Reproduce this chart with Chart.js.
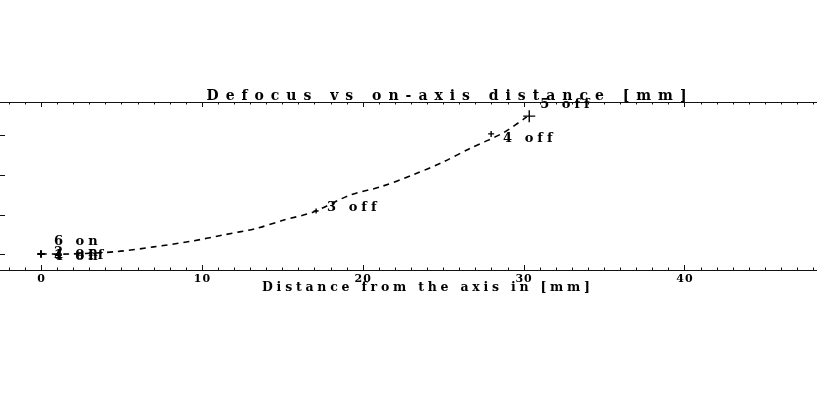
<!DOCTYPE html>
<html>
<head>
<meta charset="utf-8">
<script src="https://cdn.jsdelivr.net/npm/chart.js@4.4.1/dist/chart.umd.min.js"></script>
<style>
  html, body { margin: 0; padding: 0; background: #fff; overflow: hidden; }
</style>
</head>
<body>
<canvas id="defocusChart" width="892" height="413"></canvas>
<script>
// fitted defocus curve
const curveX = [0, 1.8, 4.7, 7.0, 9.3, 11.3, 13.4, 15.1, 16.9, 19.2, 21.1, 23.1, 25.0, 26.7, 28.7, 30.2];
const curveY = [0, 0.0, 0.06, 0.18, 0.32, 0.48, 0.65, 0.86, 1.06, 1.49, 1.70, 2.00, 2.33, 2.68, 3.06, 3.47];

// measured points
const pointX = [0, 0, 0, 0, 17.1, 27.98, 30.35];
const pointY = [0, 0, 0, 0, 1.09, 3.04, 3.49];
const pointLabels = ['6 on', '2 on', '1 off', '4 on', '3 off', '4 off', '5 off'];

const xTicks = [0, 10, 20, 30, 40, 50];
const yTicks = [0, 1, 2, 3];

// marker size and label nudge per point (style only)
const markerRadius = [3.5, 3.5, 3.5, 3.5, 2.5, 3, 6];
const labelNudge = [[13, -9], [13, 2], [13, 5], [13, 6], [11, 0], [12, 8], [11, -8]];

const FONT = '"DejaVu Serif"';

function spacedText(ctx, text, x, y, size, gap, align) {
    ctx.font = 'bold ' + size + 'px ' + FONT;
    ctx.letterSpacing = '0px';
    const w = ctx.measureText(text).width + gap * (text.length - 1);
    ctx.letterSpacing = gap + 'px';
    ctx.textAlign = 'left';
    ctx.textBaseline = 'alphabetic';
    ctx.fillText(text, align === 'center' ? x - w / 2 : x, y);
    ctx.letterSpacing = '0px';
}

function fitText(ctx, text, cx, y, size, width) {
    ctx.font = 'bold ' + size + 'px ' + FONT;
    ctx.letterSpacing = '0px';
    const w0 = ctx.measureText(text).width;
    spacedText(ctx, text, cx, y, size, (width - w0) / (text.length - 1), 'center');
}

// frame, inward ticks and all the text
const framePlugin = {
    id: 'frame',
    afterDraw(chart) {
        const { ctx, chartArea: a, scales: { x, y } } = chart;
        ctx.save();
        ctx.strokeStyle = '#111';
        ctx.lineWidth = 1;
        ctx.beginPath();
        ctx.moveTo(a.left, a.top + 0.5); ctx.lineTo(a.right, a.top + 0.5);
        ctx.moveTo(a.left, a.bottom + 0.5); ctx.lineTo(a.right, a.bottom + 0.5);
        for (let v = Math.ceil(x.min); v <= x.max; v++) {
            const px = Math.round(x.getPixelForValue(v)) + 0.5;
            const len = v % 10 === 0 ? 5 : 2.5;
            ctx.moveTo(px, a.bottom); ctx.lineTo(px, a.bottom - len);
            ctx.moveTo(px, a.top); ctx.lineTo(px, a.top + len);
        }
        yTicks.forEach(v => {
            const py = Math.round(y.getPixelForValue(v)) + 0.5;
            ctx.moveTo(a.left, py); ctx.lineTo(a.left + 5, py);
        });
        ctx.stroke();

        ctx.fillStyle = '#000';
        xTicks.forEach(v => {
            spacedText(ctx, String(v), x.getPixelForValue(v), 282, 11, 1, 'center');
        });
        fitText(ctx, 'Defocus vs on-axis distance [mm]', 446.5, 100, 14, 480);
        fitText(ctx, 'Distance from the axis in [mm]', 426, 291, 12.5, 328);

        pointLabels.forEach((t, i) => {
            const px = x.getPixelForValue(pointX[i]);
            const py = y.getPixelForValue(pointY[i]);
            spacedText(ctx, t, px + labelNudge[i][0], py + labelNudge[i][1], 13, 4, 'left');
        });
        ctx.restore();
    }
};

function createDefocusChart() {
    const ctx = document.getElementById('defocusChart').getContext('2d');
    new Chart(ctx, {
        type: 'scatter',
        data: {
            datasets: [
                {
                    type: 'line',
                    data: curveX.map((v, i) => ({ x: v, y: curveY[i] })),
                    borderColor: '#000',
                    borderWidth: 1.6,
                    borderDash: [6, 5],
                    pointRadius: 0,
                    tension: 0.3,
                    fill: false
                },
                {
                    data: pointX.map((v, i) => ({ x: v, y: pointY[i] })),
                    pointStyle: 'cross',
                    pointRadius: markerRadius,
                    borderColor: '#000',
                    borderWidth: 1.4
                }
            ]
        },
        options: {
            responsive: false,
            animation: false,
            layout: { autoPadding: false, padding: { left: 0, right: 0, top: 102, bottom: 143 } },
            plugins: {
                legend: { display: false },
                tooltip: { enabled: false }
            },
            scales: {
                x: { type: 'linear', min: -2.55, max: 52.9, display: false },
                y: { type: 'linear', min: -0.405, max: 3.848, display: false }
            }
        },
        plugins: [framePlugin]
    });
}

createDefocusChart();
</script>
</body>
</html>
